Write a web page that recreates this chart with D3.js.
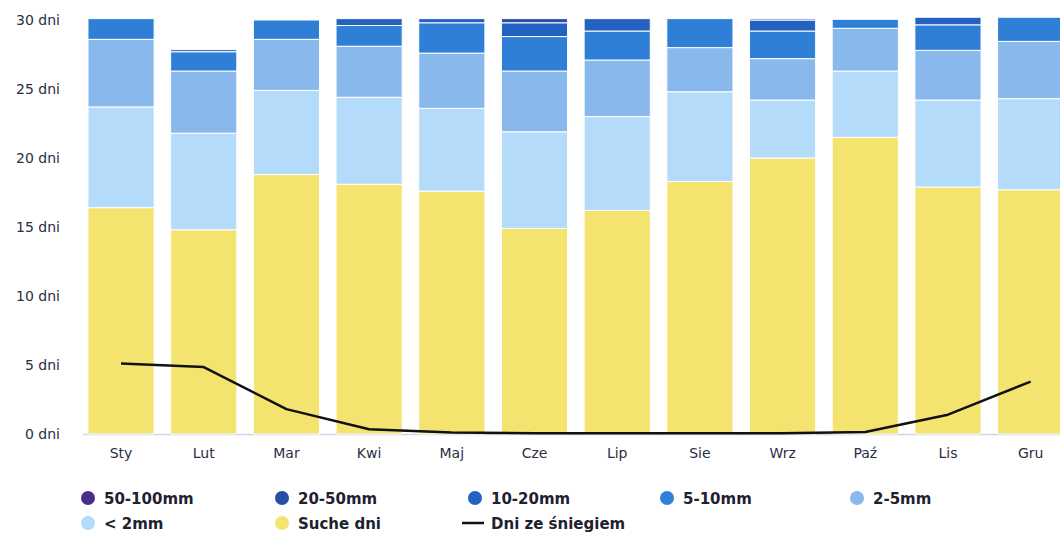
<!DOCTYPE html>
<html>
<head>
<meta charset="utf-8">
<script src="https://cdn.jsdelivr.net/npm/d3@7"></script>
<style>
  html, body { margin: 0; padding: 0; background: #fff; overflow: hidden; }
  svg { display: block; }
</style>
</head>
<body>
<svg id="chart" width="1060" height="536"></svg>
<script>
// ---- data ----
const months = ["Sty","Lut","Mar","Kwi","Maj","Cze","Lip","Sie","Wrz","Paź","Lis","Gru"];
const dryDays   = [16.4,14.8,18.8,18.1,17.6,14.9,16.2,18.3,20.0,21.5,17.9,17.7];
const lt2mm     = [7.3,7.0,6.1,6.3,6.0,7.0,6.8,6.5,4.2,4.8,6.3,6.6];
const mm2to5    = [4.9,4.5,3.7,3.7,4.0,4.4,4.1,3.2,3.0,3.1,3.6,4.15];
const mm5to10   = [1.5,1.4,1.4,1.5,2.2,2.5,2.1,2.1,2.0,0.65,1.85,1.75];
const mm10to20  = [0,0.15,0,0.5,0.3,1.0,0.9,0,0.8,0,0.55,0];
const mm20to50  = [0,0,0,0,0,0.3,0,0,0.1,0,0,0];
const mm50to100 = [0,0,0,0,0,0,0,0,0,0,0,0];
const snowDays  = [5.1,4.85,1.8,0.35,0.1,0.05,0.05,0.05,0.05,0.15,1.4,3.8];
const yTicks    = [0,5,10,15,20,25,30];

const seriesKeys   = ["dry","lt2","m2_5","m5_10","m10_20","m20_50","m50_100"];
const seriesValues = [dryDays, lt2mm, mm2to5, mm5to10, mm10to20, mm20to50, mm50to100];
const seriesColors = ["#f4e36e","#b4dbf9","#88b8ec","#2f7fd6","#2462c2","#2a4ea8","#4a2d8a"];

const legendItems = [
  {label:"50-100mm", color:"#4a2d8a", type:"dot"},
  {label:"20-50mm",  color:"#2a4ea8", type:"dot"},
  {label:"10-20mm",  color:"#2462c2", type:"dot"},
  {label:"5-10mm",   color:"#2f80d8", type:"dot"},
  {label:"2-5mm",    color:"#88b8ec", type:"dot"},
  {label:"< 2mm",    color:"#b4dbf9", type:"dot"},
  {label:"Suche dni",color:"#f4e36e", type:"dot"},
  {label:"Dni ze śniegiem", color:"#111", type:"line"}
];

// ---- layout ----
const svg = d3.select("#chart");
const x = d3.scaleBand().domain(months).range([79.7, 1072]).paddingInner(0.2).paddingOuter(0.1);
const y = d3.scaleLinear().domain([0, 30]).range([434, 20]);
const textColor = "#2b2e45";

const table = months.map((m, i) => {
  const row = {month: m};
  seriesKeys.forEach((k, j) => row[k] = seriesValues[j][i]);
  return row;
});
const stacked = d3.stack().keys(seriesKeys)(table);

// axis baseline
svg.append("line")
  .attr("x1", 83).attr("x2", 1060)
  .attr("y1", y(0) + 0.5).attr("y2", y(0) + 0.5)
  .attr("stroke", "#c9d6e6").attr("stroke-width", 1.5);

// bars
svg.append("g").selectAll("g").data(stacked).join("g")
  .attr("fill", (d, i) => seriesColors[i])
  .selectAll("rect").data(d => d.filter(s => s[1] - s[0] > 0)).join("rect")
  .attr("x", d => x(d.data.month))
  .attr("width", x.bandwidth())
  .attr("y", d => y(d[1]))
  .attr("height", d => y(d[0]) - y(d[1]))
  .attr("stroke", "#fff").attr("stroke-width", 1);

// y axis labels
const yAxis = d3.axisLeft(y).tickValues(yTicks).tickFormat(d => d + " dni").tickSize(0).tickPadding(0);
const gy = svg.append("g").attr("transform", "translate(60,0)").call(yAxis);
gy.select(".domain").remove();
gy.selectAll("text").attr("fill", textColor)
  .style("font-family", "DejaVu Sans, sans-serif").style("font-size", "14px");

// x axis labels
const xAxis = d3.axisBottom(x).tickSize(0).tickPadding(0);
const gx = svg.append("g").attr("transform", `translate(0,${y(0) + 14})`).call(xAxis);
gx.select(".domain").remove();
gx.selectAll("text").attr("fill", textColor)
  .style("font-family", "DejaVu Sans, sans-serif").style("font-size", "14px");

// snow line
const line = d3.line()
  .x((d, i) => x(months[i]) + x.bandwidth() / 2)
  .y(d => y(d))
  .curve(d3.curveLinear);
svg.append("path").datum(snowDays)
  .attr("d", line).attr("fill", "none")
  .attr("stroke", "#111").attr("stroke-width", 2.5)
  .attr("stroke-linejoin", "round");

// legend
const colX = [88, 282, 475, 667, 857];
const rowY = [498, 523];
const lg = svg.append("g");
legendItems.forEach((it, i) => {
  const col = i % 5, row = Math.floor(i / 5);
  const cx = colX[col], cy = rowY[row];
  if (it.type === "dot") {
    lg.append("circle").attr("cx", cx).attr("cy", cy).attr("r", 7).attr("fill", it.color);
  } else {
    lg.append("line").attr("x1", cx - 13).attr("x2", cx + 9)
      .attr("y1", cy).attr("y2", cy).attr("stroke", it.color).attr("stroke-width", 2.5);
  }
  lg.append("text").attr("x", cx + 16).attr("y", cy + 5.5)
    .attr("fill", "#1e2130")
    .style("font-family", "DejaVu Sans, sans-serif").style("font-weight", "bold")
    .style("font-size", "15px").text(it.label);
});
</script>
</body>
</html>
